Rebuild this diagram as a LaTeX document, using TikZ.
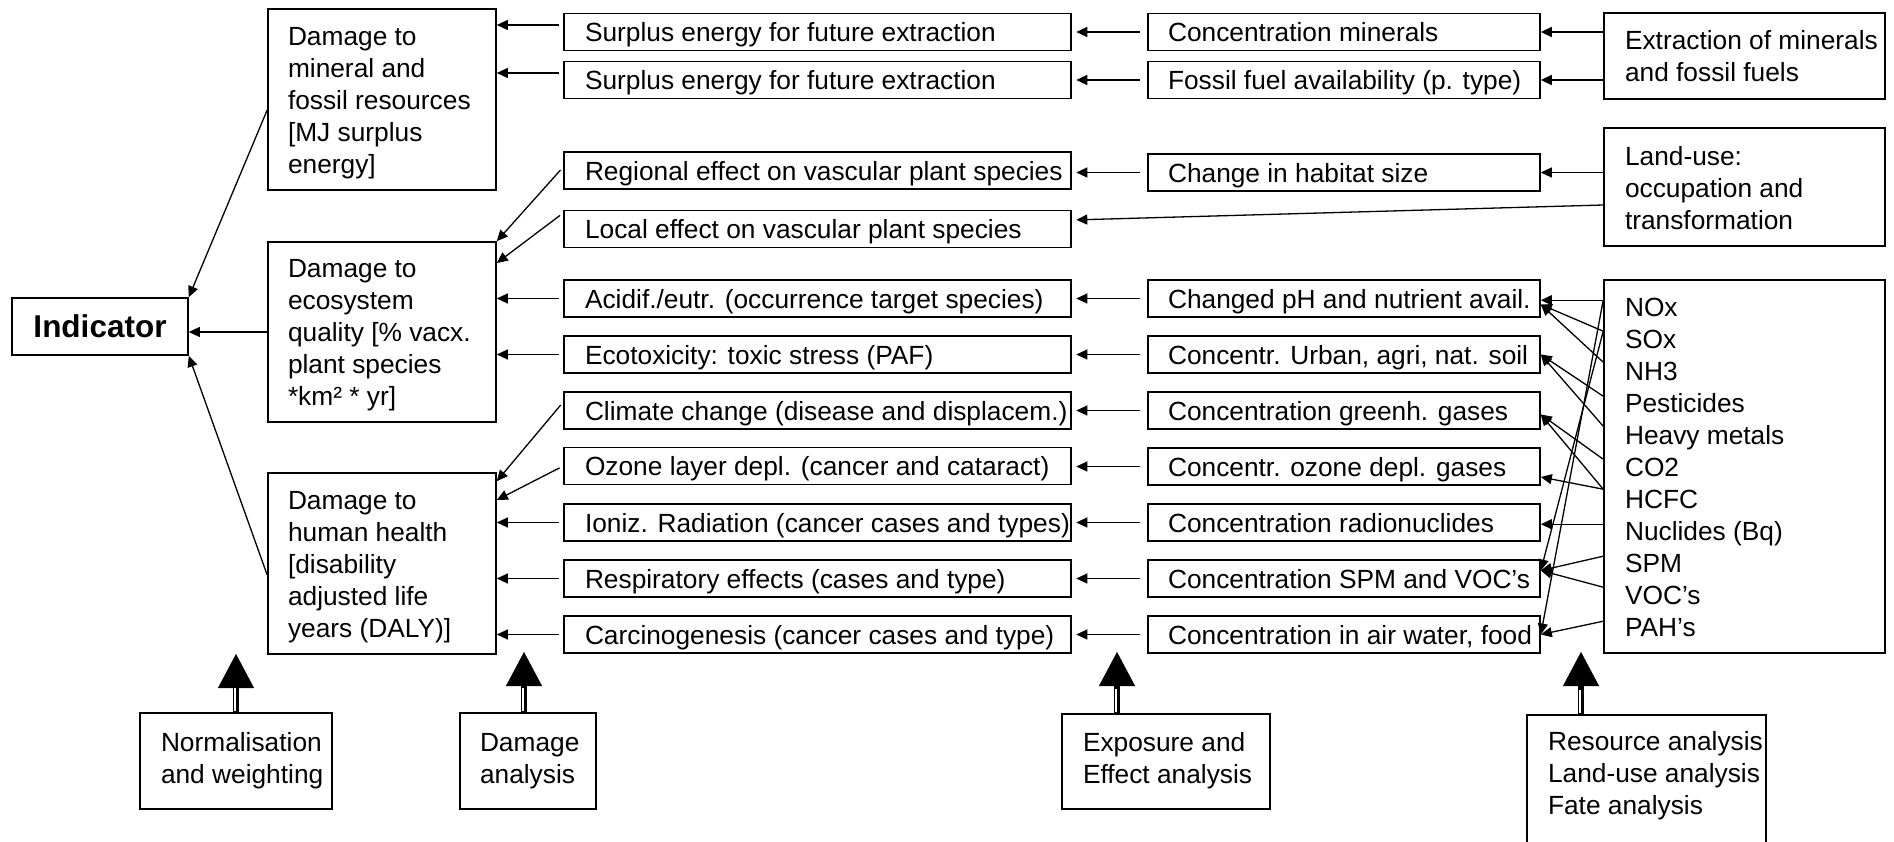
\documentclass[tikz,border=0pt]{standalone}
\usepackage{fontspec}
\setmainfont{Liberation Sans}
\usetikzlibrary{arrows.meta,calc}
% left-aligned block of lines inside a box of given inner width, shifted down by #2
\newcommand{\padtext}[3]{\raisebox{-#2}[\height][\depth]{\makebox[#1][l]{\begin{tabular}{@{}l@{}}#3\end{tabular}}}}
\begin{document}
\begin{tikzpicture}[x=1pt, y=-1pt,
  font=\fontsize{26.3pt}{32pt}\selectfont,
  box/.style={draw, line width=1.6pt, inner sep=0pt, rectangle},
  midbox/.style={box, minimum width=507pt, minimum height=37pt},
  expbox/.style={box, minimum width=392pt, minimum height=37pt},
  dmgbox/.style={box, minimum width=228pt},
  srcbox/.style={box, minimum width=281pt},
  anabox/.style={box},
  conn/.style={line width=1.3pt, -{Triangle[length=11pt,width=10pt]}},
  bigarrow/.style={line width=6pt, -{Triangle[length=34pt,width=36pt,line width=0.4pt]}},
  gapline/.style={white, line width=1.3pt}]
\useasboundingbox (0,0) rectangle (1894,841);
\clip (0,0) rectangle (1894,841);
\fill[white] (0,0) rectangle (1894,841);

% indicator
\node[box, minimum width=176pt, minimum height=57pt, font=\fontsize{31.5pt}{38pt}\selectfont\bfseries] (ind) at (100,326.5) {Indicator};

% damage categories
\node[dmgbox, minimum height=181pt] (d1) at (382,99.5) {\padtext{188pt}{3.5pt}{Damage to\\mineral and\\fossil resources\\{}[MJ surplus\\energy]}};
\node[dmgbox, minimum height=180pt] (d2) at (382,332) {\padtext{188pt}{3.5pt}{Damage to\\ecosystem\\quality [\% vacx.\\plant species\\{}*km² * yr]}};
\node[dmgbox, minimum height=181pt] (d3) at (382,563.5) {\padtext{188pt}{3.5pt}{Damage to\\human health\\{}[disability\\adjusted life\\years (DALY)]}};

% effect column
\node[midbox] (m1) at (817.5,32) {\padtext{465pt}{3.5pt}{Surplus energy for future extraction}};
\node[midbox] (m2) at (817.5,80) {\padtext{465pt}{3.5pt}{Surplus energy for future extraction}};
\node[midbox] (m3) at (817.5,170.5) {\padtext{465pt}{3.5pt}{Regional effect on vascular plant species}};
\node[midbox] (m4) at (817.5,229) {\padtext{465pt}{3.5pt}{Local effect on vascular plant species}};
\node[midbox] (m5) at (817.5,298.5) {\padtext{465pt}{3.5pt}{Acidif./eutr. (occurrence target species)}};
\node[midbox] (m6) at (817.5,354.5) {\padtext{465pt}{3.5pt}{Ecotoxicity: toxic stress (PAF)}};
\node[midbox] (m7) at (817.5,410.5) {\padtext{465pt}{3.5pt}{Climate change (disease and displacem.)}};
\node[midbox] (m8) at (817.5,466) {\padtext{465pt}{3.5pt}{Ozone layer depl. (cancer and cataract)}};
\node[midbox] (m9) at (817.5,522.5) {\padtext{465pt}{3.5pt}{Ioniz. Radiation (cancer cases and types)}};
\node[midbox] (m10) at (817.5,578.5) {\padtext{465pt}{3.5pt}{Respiratory effects (cases and type)}};
\node[midbox] (m11) at (817.5,634.5) {\padtext{465pt}{3.5pt}{Carcinogenesis (cancer cases and type)}};

% exposure column
\node[expbox] (e1) at (1344,32) {\padtext{352pt}{3.5pt}{Concentration minerals}};
\node[expbox] (e2) at (1344,80) {\padtext{352pt}{3.5pt}{Fossil fuel availability (p. type)}};
\node[expbox] (e3) at (1344,172.5) {\padtext{352pt}{3.5pt}{Change in habitat size}};
\node[expbox] (e5) at (1344,298.5) {\padtext{352pt}{3.5pt}{Changed pH and nutrient avail.}};
\node[expbox] (e6) at (1344,354.5) {\padtext{352pt}{3.5pt}{Concentr. Urban, agri, nat. soil}};
\node[expbox] (e7) at (1344,410.5) {\padtext{352pt}{3.5pt}{Concentration greenh. gases}};
\node[expbox] (e8) at (1344,466.5) {\padtext{352pt}{3.5pt}{Concentr. ozone depl. gases}};
\node[expbox] (e9) at (1344,522.5) {\padtext{352pt}{3.5pt}{Concentration radionuclides}};
\node[expbox] (e10) at (1344,578.5) {\padtext{352pt}{3.5pt}{Concentration SPM and VOC’s}};
\node[expbox] (e11) at (1344,634.5) {\padtext{352pt}{3.5pt}{Concentration in air water, food}};

% sources
\node[srcbox, minimum height=86pt] (s1) at (1744.5,56) {\padtext{239pt}{3pt}{Extraction of minerals\\and fossil fuels}};
\node[srcbox, minimum height=118pt] (s2) at (1744.5,187) {\padtext{239pt}{3.6pt}{Land-use:\\occupation and\\transformation}};
\node[srcbox, minimum height=373pt] (s3) at (1744.5,466.5) {\padtext{239pt}{4pt}{NOx\\SOx\\NH3\\Pesticides\\Heavy metals\\CO2\\HCFC\\Nuclides (Bq)\\SPM\\VOC’s\\PAH’s}};

% analysis steps
\node[anabox, minimum width=192pt, minimum height=96pt] (a1) at (236,761) {\padtext{150pt}{0pt}{Normalisation\\and weighting}};
\node[anabox, minimum width=136pt, minimum height=96pt] (a2) at (528,761) {\padtext{96pt}{0pt}{Damage\\analysis}};
\node[anabox, minimum width=208pt, minimum height=95pt] (a3) at (1166,761.5) {\padtext{166pt}{0pt}{Exposure and\\Effect analysis}};
\node[anabox, minimum width=239pt, minimum height=150pt, anchor=north] (a4) at (1646.5,714) {\padtext{197pt}{-13.4pt}{Resource analysis\\Land-use analysis\\Fate analysis}};

% damage -> indicator
\draw[conn] ([yshift=-10.5pt]d1.west) -- (ind.north east);
\draw[conn] (d2.west) -- (d2.west -| ind.east);
\draw[conn] ([yshift=-11.5pt]d3.west) -- (ind.south east);

% effects -> damage
\coordinate (q1) at ([yshift=7pt]m1.west);
\coordinate (q2) at ([yshift=7pt]m2.west);
\draw[conn, shorten <=4pt] (q1) -- (q1 -| d1.east);
\draw[conn, shorten <=4pt] (q2) -- (q2 -| d1.east);
\draw[conn, shorten <=4pt] ([yshift=3.5pt]m3.west) -- (d2.north east);
\draw[conn, shorten <=4pt] ([yshift=16pt]m4.west) -- ([yshift=69pt]d2.east);
\draw[conn, shorten <=4pt] (m5.west) -- (m5.west -| d2.east);
\draw[conn, shorten <=4pt] (m6.west) -- (m6.west -| d2.east);
\draw[conn, shorten <=4pt] ([yshift=8.5pt]m7.west) -- ([yshift=-9pt]d3.north east);
\draw[conn, shorten <=4pt] (m8.west) -- ([yshift=63.5pt]d3.east);
\draw[conn, shorten <=4pt] (m9.west) -- (m9.west -| d3.east);
\draw[conn, shorten <=4pt] (m10.west) -- (m10.west -| d3.east);
\draw[conn, shorten <=4pt] (m11.west) -- (m11.west -| d3.east);

% exposure -> effects
\foreach \i in {1,2,3,5,6,7,8,9,10,11}
  \draw[conn, shorten <=7pt, shorten >=4.5pt] (e\i.west) -- (e\i.west -| m\i.east);
\draw[conn, shorten >=4.5pt] ([yshift=-18pt]s2.west) -- ([yshift=9pt]m4.east);

% sources -> exposure
\draw[conn] (e1.east -| s1.west) -- (e1.east);
\draw[conn] (e2.east -| s1.west) -- (e2.east);
\draw[conn] (e3.east -| s2.west) -- (e3.east);

% emission points on the left side of the emission list
\coordinate (pNOx)  at ($(s3.north west)+(0,21)$);
\coordinate (pSOx)  at ($(s3.north west)+(0,52)$);
\coordinate (pNH3)  at ($(s3.north west)+(0,83)$);
\coordinate (pPest) at ($(s3.north west)+(0,117)$);
\coordinate (pHM)   at ($(s3.north west)+(0,147)$);
\coordinate (pCO2)  at ($(s3.north west)+(0,180)$);
\coordinate (pHCFC) at ($(s3.north west)+(0,210)$);
\coordinate (pNucl) at ($(s3.north west)+(0,245)$);
\coordinate (pSPM)  at ($(s3.north west)+(0,277)$);
\coordinate (pVOC)  at ($(s3.north west)+(0,308)$);
\coordinate (pPAH)  at ($(s3.north west)+(0,342)$);

\coordinate (hPH)  at ([yshift=-6pt]e5.east);
\coordinate (hGH)  at ([yshift=-4pt]e7.east);
\coordinate (hOz)  at ([yshift=-10.5pt]e8.east);
\coordinate (hSPM) at ([yshift=8pt]e10.east);

\draw[conn] (pNOx) -- (pNOx -| e5.east);
\draw[conn] (pSOx) -- (hPH);
\draw[conn] (pNH3) -- (hPH);
\draw[conn] (pPest) -- (e6.east);
\draw[conn] (pHM) -- (e6.east);
\draw[conn] (pCO2) -- (hGH);
\draw[conn] (pHCFC) -- (hGH);
\draw[conn] (pHCFC) -- (hOz);
\draw[conn] (pNucl) -- (pNucl -| e9.east);
\draw[conn] (pSPM) -- (hSPM);
\draw[conn] (pVOC) -- (hSPM);
\draw[conn] (pPAH) -- (e11.east);
\draw[conn] (pNOx) -- (e11.east);
\draw[conn] (pSOx) -- (hSPM);

% analysis steps feeding the levels above
\coordinate (t1) at (236,654);
\coordinate (t2) at (524,652);
\coordinate (t3) at (1117,652);
\coordinate (t4) at (1581,652);
\coordinate (b1) at (t1 |- a1.north);
\coordinate (b2) at (t2 |- a2.north);
\coordinate (b3) at (t3 |- a3.north);
\coordinate (b4) at (t4 |- a4.north);
\draw[bigarrow] (a1.north) -- (t1);
\draw[bigarrow] (b2) -- (t2);
\draw[bigarrow] (b3) -- (t3);
\draw[bigarrow] (b4) -- (t4);
\foreach \b in {b1,b2,b3,b4}
  \draw[gapline] ([xshift=-1pt,yshift=1.5pt]\b) -- ([xshift=-1pt,yshift=24pt]\b);
\end{tikzpicture}
\end{document}
